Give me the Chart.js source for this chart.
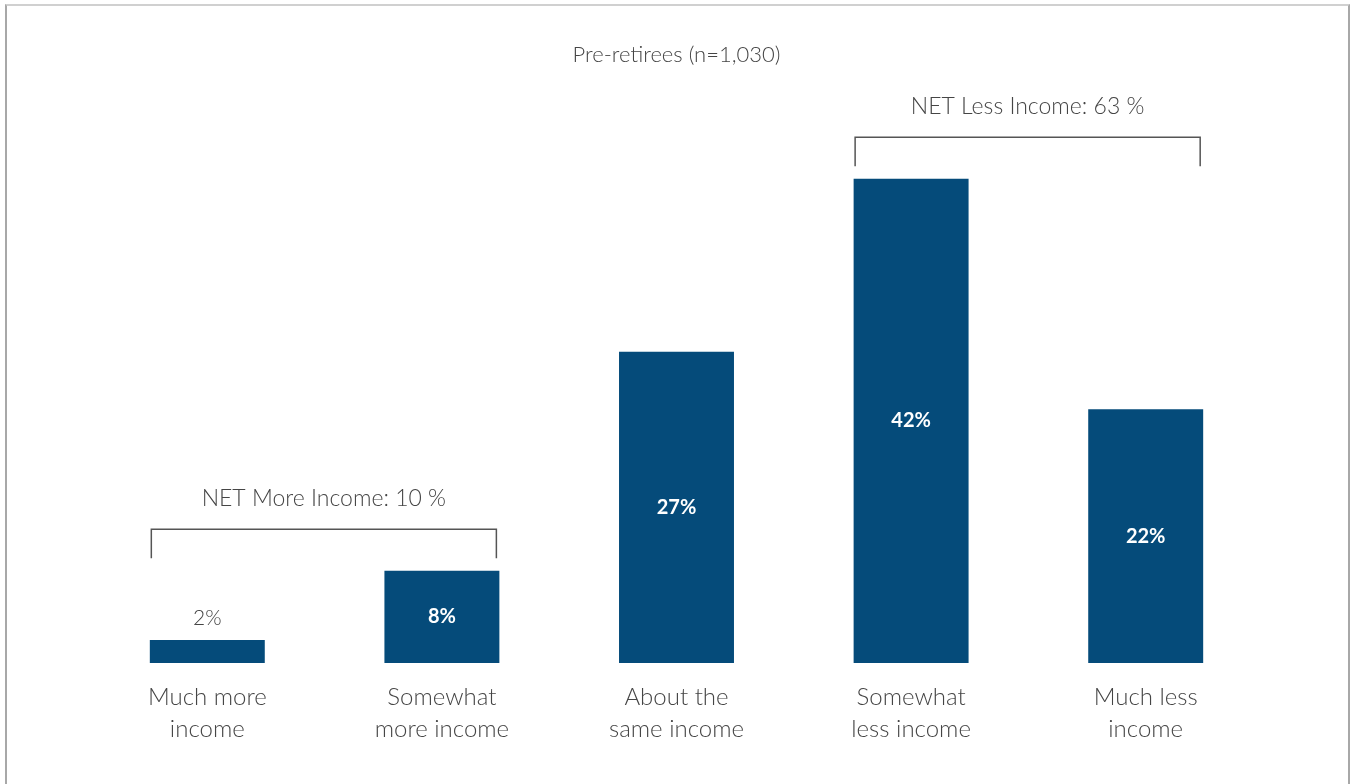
<!doctype html>
<html lang="en-US">
<head>
    <meta charset="utf-8" />
    <title>Pre-retirees income expectation</title>
    <script src="https://cdn.jsdelivr.net/npm/chart.js@4"></script>
    <style>
        body {
            margin: 0;
            background: #fff;
            overflow: hidden;
        }

        .frame {
            position: absolute;
            left: 5px;
            top: 4px;
            width: 1341px;
            height: 800px;
            border-top: 2px solid #d0d0d0;
            border-left: 2px solid #a8a8a8;
            border-right: 2px solid #a8a8a8;
        }

        #wrap {
            position: absolute;
            left: 0;
            top: 0;
            width: 1351px;
            height: 784px;
        }
    </style>
</head>
<body>
    <div class="frame"></div>
    <div id="wrap"><canvas id="chart"></canvas></div>

    <script>
        const categories = [
            ["Much more", "income"],
            ["Somewhat", "more income"],
            ["About the", "same income"],
            ["Somewhat", "less income"],
            ["Much less", "income"]
        ];
        const values = [2, 8, 27, 42, 22];
        const valueLabels = ["2%", "8%", "27%", "42%", "22%"];

        // NET brackets over groups of bars
        const netLabels = ["NET More Income: 10 %", "NET Less Income: 63 %"];
        const netFrom = [0, 3];
        const netTo = [1, 4];

        const fontFamily = "Lato, 'Open Sans', sans-serif";
        const barColor = '#054b7a';
        const textColor = '#454545';

        const labelsPlugin = {
            id: 'labelsAndBrackets',
            afterDatasetsDraw(chart) {
                const ctx = chart.ctx;
                const bars = chart.getDatasetMeta(0).data;
                ctx.save();
                ctx.textAlign = 'center';
                ctx.textBaseline = 'middle';

                // value labels: inside the bar, or above it when the bar is too short
                bars.forEach((bar, i) => {
                    const h = bar.base - bar.y;
                    if (h < 40) {
                        ctx.fillStyle = textColor;
                        ctx.font = `300 21px ${fontFamily}`;
                        ctx.fillText(valueLabels[i], bar.x, bar.y - 22);
                    } else {
                        ctx.fillStyle = '#ffffff';
                        ctx.font = `bold 20px ${fontFamily}`;
                        ctx.fillText(valueLabels[i], bar.x, bar.y + h / 2);
                    }
                });

                // brackets
                ctx.strokeStyle = '#555555';
                ctx.lineWidth = 1.5;
                netLabels.forEach((label, g) => {
                    const first = bars[netFrom[g]];
                    const last = bars[netTo[g]];
                    let top = Infinity;
                    for (let i = netFrom[g]; i <= netTo[g]; i++) {
                        top = Math.min(top, bars[i].y);
                    }
                    const lineY = top - 41.5;
                    const x1 = first.x - first.width / 2 + 1.5;
                    const x2 = last.x + last.width / 2 - 3;
                    ctx.beginPath();
                    ctx.moveTo(x1, lineY + 29);
                    ctx.lineTo(x1, lineY);
                    ctx.lineTo(x2, lineY);
                    ctx.lineTo(x2, lineY + 29);
                    ctx.stroke();

                    ctx.fillStyle = textColor;
                    ctx.font = `300 23px ${fontFamily}`;
                    ctx.fillText(label, (x1 + x2) / 2, lineY - 31);
                });
                ctx.restore();
            }
        };

        new Chart(document.getElementById('chart'), {
            type: 'bar',
            data: {
                labels: categories,
                datasets: [{
                    data: values,
                    backgroundColor: barColor,
                    borderWidth: 0,
                    barPercentage: 1,
                    categoryPercentage: 0.49
                }]
            },
            options: {
                responsive: true,
                maintainAspectRatio: false,
                animation: false,
                layout: {
                    padding: { left: 90, right: 88, top: 0, bottom: 0 }
                },
                plugins: {
                    legend: { display: false },
                    tooltip: { enabled: false },
                    title: {
                        display: true,
                        text: 'Pre-retirees (n=1,030)',
                        color: textColor,
                        font: { family: fontFamily, size: 22, weight: '300', lineHeight: 1.2 },
                        padding: { top: 42, bottom: 18 }
                    }
                },
                scales: {
                    x: {
                        grid: { display: false, drawTicks: false },
                        border: { display: false },
                        ticks: {
                            color: textColor,
                            padding: 18,
                            font: { family: fontFamily, size: 24, weight: '300', lineHeight: 1.333 }
                        },
                        afterFit(scale) {
                            scale.height = 121;
                        }
                    },
                    y: {
                        display: false,
                        min: 0,
                        max: 50
                    }
                }
            },
            plugins: [labelsPlugin]
        });
    </script>
</body>
</html>
